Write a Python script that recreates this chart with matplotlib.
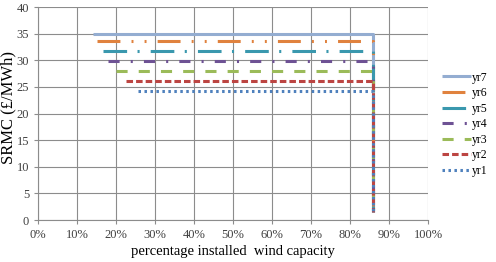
import matplotlib
matplotlib.use('Agg')
import matplotlib.pyplot as plt
from matplotlib.ticker import PercentFormatter

plt.rcParams['font.family'] = ['Liberation Serif', 'DejaVu Serif']
plt.rcParams['lines.scale_dashes'] = False

# series: yr7 .. yr1 (legend order)
series = ['yr7', 'yr6', 'yr5', 'yr4', 'yr3', 'yr2', 'yr1']
srmc = [35.0, 33.6, 31.8, 29.8, 28.0, 26.2, 24.2]
start_pct = [14.0, 15.0, 16.5, 18.0, 20.0, 22.5, 25.5]
end_pct = 86.0
end_srmc = 1.5

colors = ['#94ADD1', '#E0823E', '#3A98AE', '#6E5294', '#9BBB59', '#BC4542', '#4F81BD']
styles = [
    '-',
    (0, (16.5, 8, 1.4, 8, 1.4, 8)),
    (0, (17, 7.5, 1.5, 8)),
    (0, (8, 8, 1.5, 8)),
    (0, (8, 8)),
    (0, (4.7, 2.2)),
    (0, (1.8, 2.5)),
]

fig = plt.figure(figsize=(4.96, 2.62), dpi=100)
ax = fig.add_axes([0.077, 0.16, 0.786, 0.813])

for name, v, x0, c, ls in zip(series, srmc, start_pct, colors, styles):
    ax.plot([x0, end_pct, end_pct], [v, v, end_srmc], color=c, linestyle=ls,
            linewidth=2.2, solid_capstyle='butt', dash_capstyle='butt', label=name)

ax.set_xlim(0, 100)
ax.set_ylim(0, 40)
ax.set_xticks(range(0, 101, 10))
ax.set_yticks(range(0, 41, 5))
ax.xaxis.set_major_formatter(PercentFormatter(decimals=0))
ax.grid(True, color='#8c8c8c', linewidth=0.8)
ax.set_axisbelow(True)
for side in ['top', 'right']:
    ax.spines[side].set_visible(False)
for side in ['left', 'bottom']:
    ax.spines[side].set_color('#8c8c8c')
ax.tick_params(labelsize=9, colors='#8c8c8c', labelcolor='#404040', length=3, width=0.8)

ax.set_xlabel('percentage installed  wind capacity', fontsize=10.5, labelpad=3)
ax.set_ylabel('SRMC (£/MWh)', fontsize=12)
ax.yaxis.set_label_coords(-0.056, 0.53)

ax.legend(loc='center left', bbox_to_anchor=(1.0, 0.45), frameon=False, fontsize=8.5,
          handlelength=2.4, handletextpad=0.1, labelspacing=0.3, borderaxespad=0.8)

fig.savefig('out.png', dpi=100)
